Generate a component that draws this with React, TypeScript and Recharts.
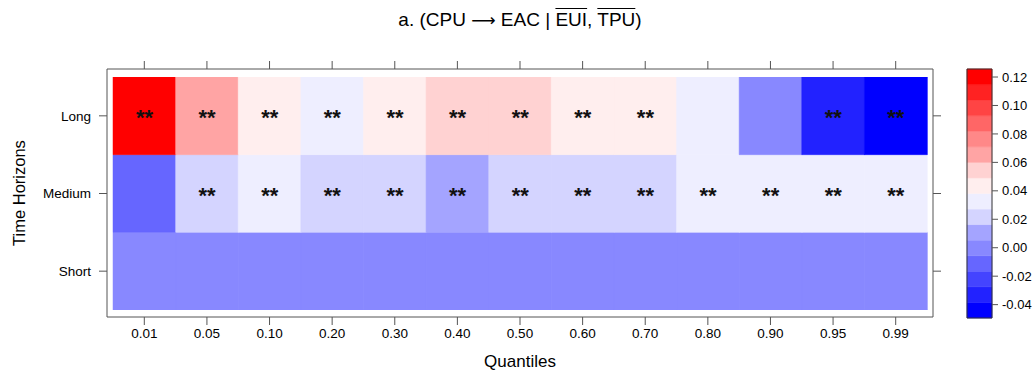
import React from "react";
import {
  BarChart,
  Bar,
  Cell,
  LabelList,
  XAxis,
  YAxis,
  ComposedChart,
  ReferenceArea,
} from "recharts";

const QUANTILES = ["0.01", "0.05", "0.10", "0.20", "0.30", "0.40", "0.50", "0.60", "0.70", "0.80", "0.90", "0.95", "0.99"];

// coefficient values
const LONG = [0.121, 0.066, 0.044, 0.033, 0.044, 0.055, 0.055, 0.044, 0.044, 0.033, 0.0, -0.033, -0.044];
const MEDIUM = [-0.011, 0.022, 0.033, 0.022, 0.022, 0.011, 0.022, 0.022, 0.022, 0.033, 0.033, 0.033, 0.033];
const SHORT = [0.0, 0.0, 0.0, 0.0, 0.0, 0.0, 0.0, 0.0, 0.0, 0.0, 0.0, 0.0, 0.0];

const LONG_SIG = ["**", "**", "**", "**", "**", "**", "**", "**", "**", "", "", "**", "**"];
const MEDIUM_SIG = ["", "**", "**", "**", "**", "**", "**", "**", "**", "**", "**", "**", "**"];
const SHORT_SIG = ["", "", "", "", "", "", "", "", "", "", "", "", ""];

const HORIZONS = ["Short", "Medium", "Long"];
const HORIZON_TICKS = [0.5, 1.5, 2.5];

// colour key
const PALETTE = [
  "#0000FF", "#2222FF", "#4444FF", "#6666FF", "#8888FF", "#A4A4FF", "#D4D4FF", "#EEEEFF",
  "#FFEEEE", "#FFD2D2", "#FFA4A4", "#FF8888", "#FF6666", "#FF4444", "#FF2222", "#FF0000",
];
const CB_MIN = -0.0494;
const CB_STEP = 0.01094;
const CB_TICKS = [-0.04, -0.02, 0, 0.02, 0.04, 0.06, 0.08, 0.1, 0.12];

const FONT = "'Liberation Sans', Arial, sans-serif";
const FRAME = "#555";

const colorFor = (v: number) => {
  const i = Math.floor((v - CB_MIN) / CB_STEP);
  return PALETTE[Math.max(0, Math.min(PALETTE.length - 1, i))];
};

const tableData = QUANTILES.map((q, i) => ({
  q,
  short: 1,
  medium: 1,
  long: 1,
  shortSig: SHORT_SIG[i],
  mediumSig: MEDIUM_SIG[i],
  longSig: LONG_SIG[i],
}));

const bands = PALETTE.map((c, i) => ({ lo: CB_MIN + i * CB_STEP, hi: CB_MIN + (i + 1) * CB_STEP, c }));

const Stars = (props: any) => {
  const { x, y, width, height, value } = props;
  if (!value) return null;
  return (
    <text
      x={Number(x) + Number(width) / 2}
      y={Number(y) + Number(height) / 2 + 9}
      textAnchor="middle"
      fontSize={22}
      fontWeight="bold"
      fontFamily={FONT}
      fill="#111"
    >
      {value}
    </text>
  );
};

const rows = [
  { key: "short", vals: SHORT, sig: "shortSig" },
  { key: "medium", vals: MEDIUM, sig: "mediumSig" },
  { key: "long", vals: LONG, sig: "longSig" },
];

const tickStyle = { fill: "#000", fontSize: 13.5, fontFamily: FONT };

export default function App() {
  return (
    <div
      style={{
        position: "absolute",
        left: 0,
        top: 0,
        width: 1036,
        height: 372,
        background: "#fff",
        fontFamily: FONT,
        overflow: "hidden",
      }}
    >
      <div
        style={{
          position: "absolute",
          left: 107,
          top: 7,
          width: 826,
          textAlign: "center",
          fontSize: 19,
          lineHeight: "26px",
          color: "#000",
        }}
      >
        a. (CPU <span style={{ fontFamily: "'DejaVu Sans'", fontSize: 17 }}>⟶</span> EAC |{" "}
        <span style={{ textDecoration: "overline" }}>EUI</span>,{" "}
        <span style={{ textDecoration: "overline" }}>TPU</span>)
      </div>

      <BarChart
        width={1036}
        height={372}
        data={tableData}
        margin={{ top: 61, right: 95, bottom: 25, left: 47 }}
        barCategoryGap={0}
        barGap={0}
      >
        <XAxis
          xAxisId="b"
          dataKey="q"
          orientation="bottom"
          height={30}
          padding={{ left: 6, right: 6 }}
          tick={tickStyle}
          tickSize={8}
          tickMargin={3}
          stroke={FRAME}
          interval={0}
        />
        <XAxis
          xAxisId="t"
          dataKey="q"
          orientation="top"
          height={8}
          padding={{ left: 6, right: 6 }}
          tickFormatter={() => ""}
          tickSize={8}
          stroke={FRAME}
          interval={0}
        />
        <YAxis
          yAxisId="l"
          type="number"
          domain={[0, 3]}
          ticks={HORIZON_TICKS}
          tickFormatter={(v: number) => HORIZONS[Math.floor(v)]}
          padding={{ top: 8, bottom: 7 }}
          width={60}
          tick={tickStyle}
          tickSize={8}
          tickMargin={8}
          stroke={FRAME}
          allowDataOverflow
        />
        <YAxis
          yAxisId="r"
          orientation="right"
          type="number"
          domain={[0, 3]}
          ticks={HORIZON_TICKS}
          tickFormatter={() => ""}
          padding={{ top: 8, bottom: 7 }}
          width={8}
          tickSize={8}
          stroke={FRAME}
          allowDataOverflow
        />
        {rows.map((r) => (
          <Bar
            key={r.key}
            dataKey={r.key}
            stackId="h"
            xAxisId="b"
            yAxisId="l"
            isAnimationActive={false}
          >
            {r.vals.map((v, i) => (
              <Cell key={i} fill={colorFor(v)} stroke={colorFor(v)} strokeWidth={0.5} />
            ))}
            <LabelList dataKey={r.sig} content={Stars} />
          </Bar>
        ))}
      </BarChart>

      <div style={{ position: "absolute", left: 940, top: 0 }}>
        <ComposedChart width={96} height={372} data={[{ x: 0.5 }]} margin={{ top: 69, right: 0, bottom: 54, left: 27 }}>
          <XAxis dataKey="x" type="number" domain={[0, 1]} hide />
          <YAxis
            orientation="right"
            type="number"
            domain={[CB_MIN, CB_MIN + PALETTE.length * CB_STEP]}
            ticks={CB_TICKS}
            tickFormatter={(v: number) => v.toFixed(2)}
            width={44}
            tick={{ fill: "#000", fontSize: 13, fontFamily: FONT }}
            tickSize={6}
            tickMargin={4}
            axisLine={false}
            stroke={FRAME}
            allowDataOverflow
          />
          {bands.map((b, i) => (
            <ReferenceArea key={i} y1={b.lo} y2={b.hi} fill={b.c} fillOpacity={1} stroke={b.c} strokeWidth={0.5} ifOverflow="visible" />
          ))}
          <ReferenceArea
            y1={CB_MIN}
            y2={CB_MIN + PALETTE.length * CB_STEP}
            fill="none"
            stroke="#333"
            strokeWidth={1}
            ifOverflow="visible"
          />
        </ComposedChart>
      </div>

      <div
        style={{
          position: "absolute",
          left: 107,
          top: 351,
          width: 826,
          textAlign: "center",
          fontSize: 17,
          lineHeight: "22px",
          color: "#000",
        }}
      >
        Quantiles
      </div>
      <div
        style={{
          position: "absolute",
          left: 19,
          top: 193,
          transform: "translate(-50%, -50%) rotate(-90deg)",
          whiteSpace: "nowrap",
          fontSize: 16.5,
          color: "#000",
        }}
      >
        Time Horizons
      </div>
    </div>
  );
}
